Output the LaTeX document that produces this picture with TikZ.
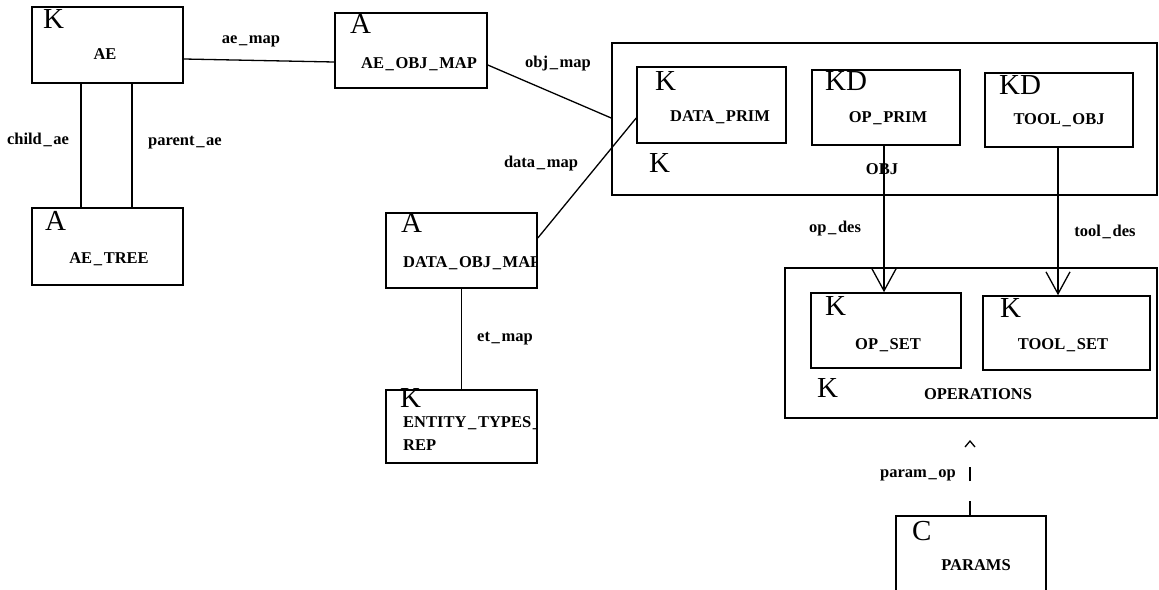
\documentclass[tikz,border=0pt]{standalone}
\usepackage{fontspec}
\setmainfont{Liberation Serif}
\usetikzlibrary{arrows.meta}
\newcommand{\us}{\kern0.1em\_\kern0.1em}
\begin{document}
\begin{tikzpicture}[x=1pt,y=-1pt,
  box/.style={draw,line width=1.6pt,rectangle,inner sep=0pt},
  lbl/.style={font=\fontsize{16.5}{18}\selectfont\bfseries,inner sep=0pt,anchor=base},
  lblw/.style={lbl,anchor=base west},
  typ/.style={font=\fontsize{29}{32}\selectfont,inner sep=0pt,anchor=base west},
  con/.style={line width=1.3pt},
  bigarrow/.style={con,-{Straight Barb[length=22pt,width=24pt,line width=1.3pt]}},
  smallarrow/.style={con,-{Straight Barb[length=6pt,width=10pt,line width=1.3pt]}},
]
\useasboundingbox (0,0) rectangle (1159,589);

% boxes
\node[box,minimum width=151pt,minimum height=76pt] (ae) at (107.5,45) {};
\node[box,minimum width=151pt,minimum height=77pt] (aetree) at (107.5,246.5) {};
\node[box,minimum width=152pt,minimum height=75pt] (aeobj) at (411,50.5) {};
\node[box,minimum width=545pt,minimum height=152pt] (obj) at (884.5,119) {};
\node[box,minimum width=149pt,minimum height=76pt] (dprim) at (711.5,105) {};
\node[box,minimum width=148pt,minimum height=75pt] (opprim) at (886,107.5) {};
\node[box,minimum width=148pt,minimum height=74pt] (toolobj) at (1059,110) {};
\node[box,minimum width=151pt,minimum height=75pt] (dobj) at (461.5,250.5) {};
\node[box,minimum width=151pt,minimum height=73pt] (etr) at (461.5,426.5) {};
\node[box,minimum width=372pt,minimum height=150pt] (ops) at (971,343) {};
\node[box,minimum width=150pt,minimum height=75pt] (opset) at (886,330.5) {};
\node[box,minimum width=167pt,minimum height=74pt] (toolset) at (1066.5,333) {};
\node[box,minimum width=150pt,minimum height=84pt] (params) at (971,558) {};

% type letters
\node[typ] (tae) at (43,28) {K};
\node[typ] (taetree) at (45,230) {A};
\node[typ] (taeobj) at (350,33) {A};
\node[typ] (tdprim) at (655,90) {K};
\node[typ] (topprim) at (825,90) {KD};
\node[typ] (ttoolobj) at (999,94) {KD};
\node[typ] (tobj) at (649,172) {K};
\node[typ] (tdobj) at (401,232) {A};
\node[typ] (tetr) at (400,407) {K};
\node[typ] (topset) at (825,315) {K};
\node[typ] (ttoolset) at (1000,317) {K};
\node[typ] (tops) at (817,397) {K};
\node[typ] (tparams) at (912,540) {C};

% box names
\node[lbl] (nae) at (105,59) {AE};
\node[lbl] (naetree) at (109,263) {AE\us TREE};
\node[lbl] (naeobj) at (419,68) {AE\us OBJ\us MAP};
\node[lbl] (ndprim) at (720,121) {DATA\us PRIM};
\node[lbl] (nopprim) at (888,122) {OP\us PRIM};
\node[lbl] (ntoolobj) at (1059,124) {TOOL\us OBJ};
\node[lbl] (nopset) at (888,349) {OP\us SET};
\node[lbl] (ntoolset) at (1063,349) {TOOL\us SET};
\node[lbl] (nops) at (978,399) {OPERATIONS};
\node[lbl] (nparams) at (976,570) {PARAMS};
\begin{scope}
  \clip (dobj.north west) rectangle (dobj.south east);
  \node[lblw] (ndobj) at (403,267) {DATA\us OBJ\us MAP};
\end{scope}
\begin{scope}
  \clip (etr.north west) rectangle (etr.south east);
  \node[lblw] (netr1) at (403,427) {ENTITY\us TYPES\us};
  \node[lblw] (netr2) at (403,450) {REP};
\end{scope}

% connectors
\draw[con] ([yshift=-14pt]ae.east) -- ([yshift=-11.5pt]aeobj.west);
\draw[con] ([xshift=-26.5pt]ae.south) -- ([xshift=-26.5pt]aetree.north);
\draw[con] ([xshift=24.5pt]ae.south) -- ([xshift=24.5pt]aetree.north);
\draw[con] ([yshift=-14.5pt]aeobj.east) -- ([yshift=1pt]obj.west);
\draw[con] ([yshift=12.5pt]dobj.east) -- ([yshift=-13pt]dprim.west);
\draw[con] (dobj.south) -- (etr.north);
\draw[bigarrow] ([xshift=-2pt]opprim.south) -- ([xshift=-2pt]opset.north);
\draw[bigarrow] ([xshift=-1pt]toolobj.south) -- ([xshift=-1pt]toolobj.south |- toolset.north);
\coordinate (ptip) at (970,440);
\draw[smallarrow,dash pattern=on 14pt off 20pt on 14pt off 40pt] ([xshift=-1pt]params.north) -- (ptip);

% connector labels
\node[lbl] (lae) at (251,43) {ae\us map};
\node[lbl] (lchild) at (38,144) {child\us ae};
\node[lbl] (lparent) at (185,145) {parent\us ae};
\node[lbl] (lobjmap) at (558,67) {obj\us map};
\node[lbl] (ldata) at (541,167) {data\us map};
\node[lbl] (let) at (505,341) {et\us map};
\node[lbl] (lopdes) at (835,232) {op\us des};
\node[lbl] (ltooldes) at (1105,236) {tool\us des};
\node[lbl] (lparam) at (918,477) {param\us op};
\node[lbl] (lobj) at (882,174) {OBJ};
\end{tikzpicture}
\end{document}
